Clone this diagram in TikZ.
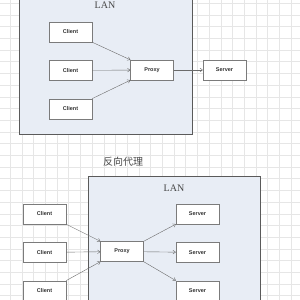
\documentclass[tikz,border=0pt]{standalone}
\usepackage{fontspec}
\setmainfont{Liberation Serif}
\setsansfont{Liberation Sans}
\newfontfamily\cjk{Noto Sans CJK SC}
\usepackage{xcolor}
\usepackage{tikz}
\usetikzlibrary{positioning,arrows.meta,shadows}
\definecolor{cLan}{HTML}{E8EDF5}
\definecolor{cEdge}{HTML}{5A5A5A}
\definecolor{cGrid}{HTML}{E6E6E6}
\definecolor{cInk}{HTML}{333333}
\tikzset{
  blk/.style={draw=cEdge!80, fill=white, minimum width=43pt, minimum height=20pt,
              inner sep=0pt, font=\sffamily\bfseries\fontsize{5.5}{6}\selectfont, text=cInk,
              drop shadow={opacity=0.2, shadow xshift=0.8pt, shadow yshift=-0.8pt}},
  lan/.style={draw=cEdge, fill=cLan, line width=0.7pt},
  ar/.style={-{To[length=3pt,width=4pt]}, cEdge!90, line width=0.4pt},
  tag/.style={font=\fontsize{10}{11}\selectfont, text=cInk!90}
}

\begin{document}
\begin{tikzpicture}[x=1pt, y=-1pt]
\useasboundingbox (0,0) rectangle (300,300);
\clip (0,0) rectangle (300,300);
% grid
\foreach \k in {0,...,25} {
  \draw[cGrid, line width=0.4pt] (10.1+11.7*\k,0) -- (10.1+11.7*\k,300);
  \draw[cGrid, line width=0.4pt] (0,3.1+11.7*\k) -- (300,3.1+11.7*\k);
}
% forward proxy
\draw[lan] (19,-5) rectangle (192,134);
\node[tag] (lanA) at (105,5) {LAN};
\node[blk] (clA) at (70.5,32) {Client};
\node[blk, below=18pt of clA] (clB) {Client};
\node[blk, below=18pt of clB] (clC) {Client};
\node[blk] (pxA) at (152,70) {Proxy};
\node[blk] (svA) at (224.5,70) {Server};
\draw[ar](clA.south east)--(pxA.north west);
\draw[ar](clB)--(pxA);
\draw[ar](clC.north east)--(pxA.south west);
\draw[ar](pxA)--(svA);
% reverse proxy
\node[tag, font=\cjk\fontsize{10}{11}\selectfont] (title) at (123,162) {反向代理};
\draw[lan] (88,176) rectangle (260,310);
\node[tag] (lanB) at (174,188) {LAN};
\node[blk] (clD) at (44.5,214) {Client};
\node[blk, below=18pt of clD] (clE) {Client};
\node[blk, below=18pt of clE] (clF) {Client};
\node[blk] (pxB) at (122,251.5) {Proxy};
\node[blk] (svB) at (197.5,214) {Server};
\node[blk, below=18pt of svB] (svC) {Server};
\node[blk, below=18pt of svC] (svD) {Server};
\draw[ar](clD.south east)--(pxB.north west);
\draw[ar](clE)--(pxB);
\draw[ar](clF.north east)--(pxB.south west);
\draw[ar](pxB.north east)--(svB.south west);
\draw[ar](pxB)--(svC);
\draw[ar](pxB.south east)--(svD.north west);
\end{tikzpicture}
\end{document}
